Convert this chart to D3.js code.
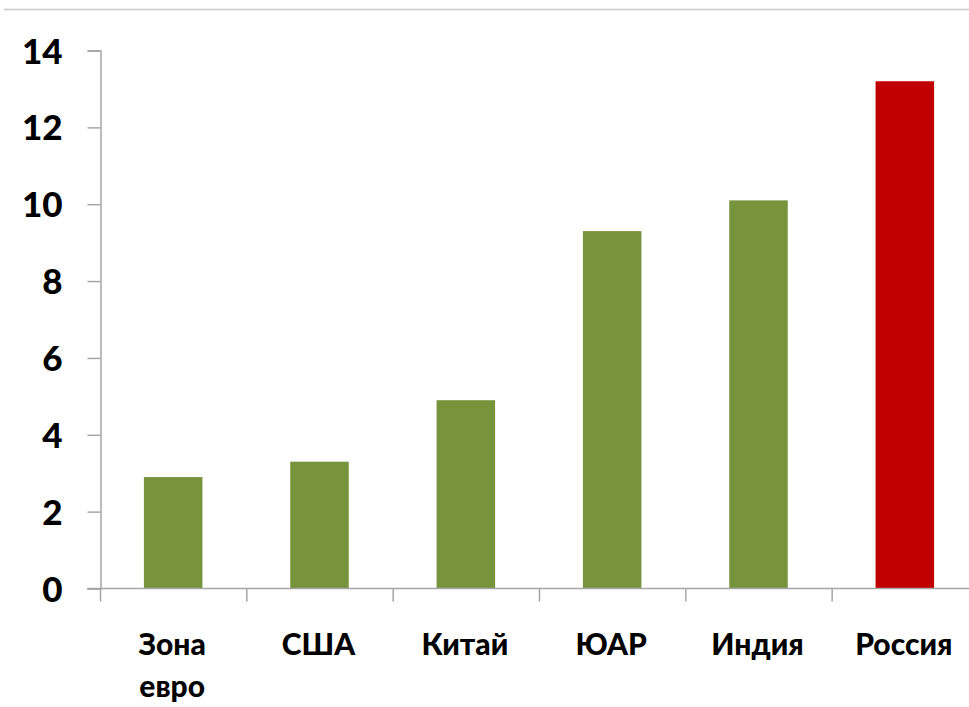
<!DOCTYPE html>
<html>
<head>
<meta charset="utf-8">
<script src="https://cdn.jsdelivr.net/npm/d3@7"></script>
<style>
  body { margin: 0; background: #fff; }
  svg { display: block; }
  .lbl { font-family: Lato, "Open Sans", sans-serif; font-weight: 900; fill: #000; }
</style>
</head>
<body>
<svg width="969" height="707"></svg>
<script>
var categories = [["Зона", "евро"], ["США"], ["Китай"], ["ЮАР"], ["Индия"], ["Россия"]];
var values = [2.9, 3.3, 4.9, 9.3, 10.1, 13.2];
var barColors = ["#77933c", "#77933c", "#77933c", "#77933c", "#77933c", "#c00000"];
var yTicks = [0, 2, 4, 6, 8, 10, 12, 14];

var svg = d3.select("svg");
var axisColor = "#a6a6a6";

// thin frame line on top
svg.append("line")
    .attr("x1", 4).attr("x2", 969)
    .attr("y1", 9.5).attr("y2", 9.5)
    .attr("stroke", "#c8c8c8")
    .attr("stroke-width", 1.5);

var x = d3.scaleBand()
    .domain(d3.range(categories.length))
    .range([100, 978])
    .paddingInner(0.6)
    .paddingOuter(0.3);

var y = d3.scaleLinear()
    .domain([0, 14])
    .range([588.5, 50.5]);

// bars
svg.append("g")
    .selectAll("rect")
    .data(values)
    .enter().append("rect")
    .attr("x", function(d, i) { return x(i); })
    .attr("width", x.bandwidth())
    .attr("y", function(d) { return y(d); })
    .attr("height", function(d) { return y(0) - y(d); })
    .attr("fill", function(d, i) { return barColors[i]; });

// y axis
var yAxis = svg.append("g")
    .attr("transform", "translate(100.5,0)")
    .call(d3.axisLeft(y).tickValues(yTicks).tickSize(13).tickPadding(25).tickFormat(d3.format("d")));
yAxis.select(".domain").attr("stroke", axisColor).attr("stroke-width", 1.5);
yAxis.selectAll(".tick line").attr("stroke", axisColor).attr("stroke-width", 1.5);
yAxis.selectAll(".tick text")
    .attr("class", "lbl")
    .style("font-size", "35px")
    .attr("dy", "0.36em");

// x axis line + category ticks
var bandEdges = d3.range(categories.length + 1).map(function(i) {
    return 100 + i * x.step();
});
svg.append("line")
    .attr("x1", 87).attr("x2", 978)
    .attr("y1", y(0)).attr("y2", y(0))
    .attr("stroke", axisColor).attr("stroke-width", 1.5);
svg.append("g")
    .selectAll("line")
    .data(bandEdges)
    .enter().append("line")
    .attr("x1", function(d) { return d + 0.5; })
    .attr("x2", function(d) { return d + 0.5; })
    .attr("y1", y(0))
    .attr("y2", y(0) + 13)
    .attr("stroke", axisColor).attr("stroke-width", 1.5);

// category labels
var labels = svg.append("g")
    .selectAll("text")
    .data(categories)
    .enter().append("text")
    .attr("class", "lbl")
    .attr("text-anchor", "middle")
    .style("font-size", "30px")
    .attr("x", function(d, i) { return x(i) + x.bandwidth() / 2 - 1; })
    .attr("y", 655);
labels.selectAll("tspan")
    .data(function(d) { return d; })
    .enter().append("tspan")
    .attr("x", function() { return d3.select(this.parentNode).attr("x"); })
    .attr("dy", function(d, i) { return i === 0 ? 0 : 42; })
    .text(function(d) { return d; });
</script>
</body>
</html>
